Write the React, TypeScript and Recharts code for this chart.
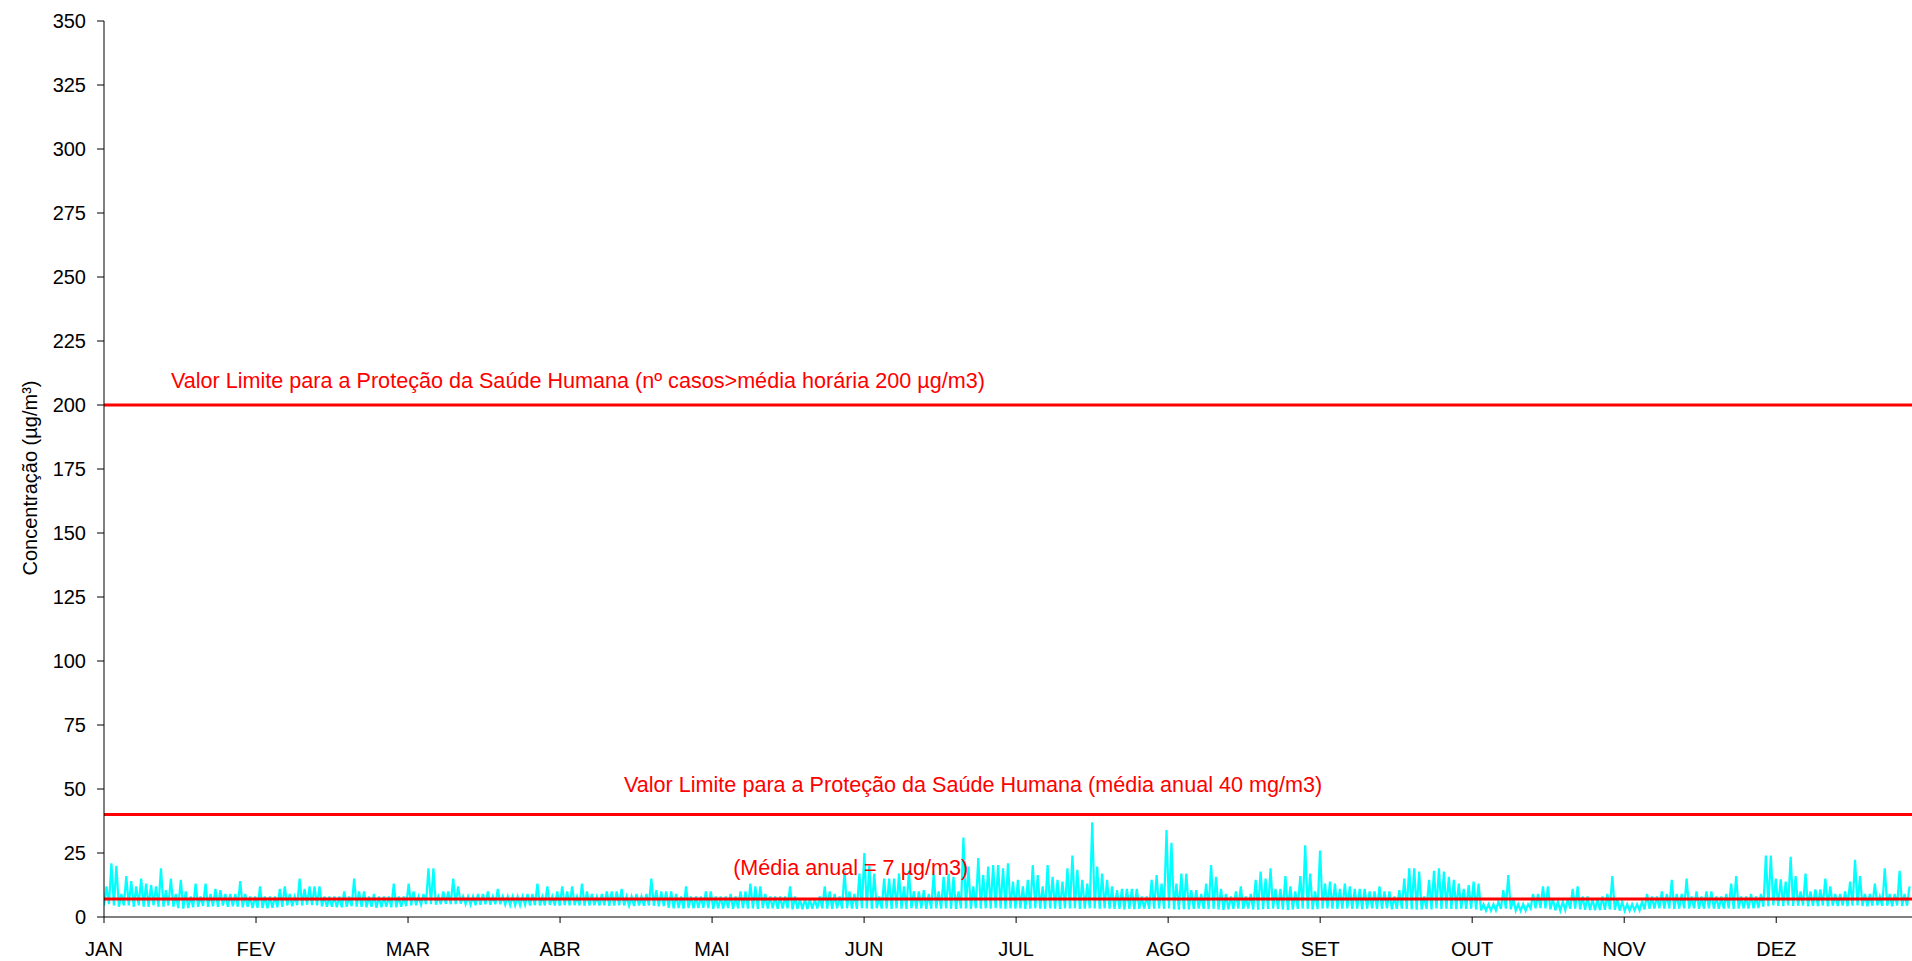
import React from 'react';
import { LineChart, Line, XAxis, YAxis, ReferenceLine } from 'recharts';

const MONTHS = ['JAN','FEV','MAR','ABR','MAI','JUN','JUL','AGO','SET','OUT','NOV','DEZ'];
const Y_TICKS = [0,25,50,75,100,125,150,175,200,225,250,275,300,325,350];

// daily peak (max hourly value), one per day
const DAILY_MAX = [
  12,21,20,9,16,14,12,15,13,12.5,
  12,19,10.5,15,9,14.5,10,8,13,8,
  13,9,11,10.5,9,9,9,14,9,8,
  8,12,8,8,8,11,12,9,8,15,
  11,12,12,12,8,8,8,8,10,8,
  15,10,10,8,9,8,8,8,13,8,
  8,13,10,8,9,19,19,8,10,10,
  15,12,8,8,8,9,9,10,8,11,
  8,8,8,8,8,9,9,13,8,12,
  8,10,12,10,12,8,13,10,9,8,
  9,10,10,10,11,8,8,9,8,9,
  15,10.5,10,10,10,9,8,12,8,8,
  8,10,10,8,8,8,9,8,10,10,
  13,12,12,9,8,8,8,8,12,8,
  7,7,7,7,8,12,10,9,8,18,
  10,9,17,25,20,17,8,15,15,15,
  17,12,18,10,10,10.5,9,17,10,15.7,
  17,15.7,10,31,19.7,12,23,16.4,19.7,20.3,
  20.3,19,21,13.8,14.5,12,14.5,20.3,16.4,12,
  20.3,15.7,14.5,13.8,19,24,18.4,14.5,13,37,
  19.7,17,14.5,12,10.5,11,11,11,11,8,
  8,14.5,16.4,13,34,29,13,17,17,10.5,
  10.5,9,13,20.3,15.7,11,9,8,10,12,
  8,9,14.5,17.7,15,19,11,11,16,12,
  10,16,28,17,10,26,13,13.8,13,11,
  13,12,11,11,11,10,10,12,10,10,
  8,10.5,15,19,19,17.7,8,14.5,18,19,
  17.7,15.7,14.5,13,11,12.5,13.8,13,5,5,
  5,6,10.5,16.4,7,5,5,5,9,9,
  12,12,7,6,6,7,11,12,8,8,
  7,7,8,9,16,7,6,5,5,5,
  6,9,8,8,10,9,14.5,9,9,15,
  8,10,8,10,10,8,8,9,13,16,
  8,8,9,8,9,24,24,15,14.7,13.8,
  23.5,16,10,17,10,10.8,10.8,15,12,9,
  9,10,13.8,22.3,16,9,9,13,8,19,
  9,9,18,9,12
];

// daily low (min hourly value)
const DAILY_MIN = [
  4.5,5,4.5,4,4.5,4.5,4,4.5,4,4,
  4.5,4,4,4.5,4,3.5,3.3,3.5,3.8,4,
  4.3,4,4.2,4,4.5,4,4.2,4,3.8,4,
  3.5,3.6,3.5,3.4,3.6,3.8,4,4.5,4.2,4.6,
  4.5,4.8,4.6,4.5,4.2,4,4,3.8,3.8,4,
  4.2,4,4,3.8,4,3.6,3.8,4,3.8,3.8,
  4,4.2,4.5,4.6,4.8,5,5,4.8,5,5.2,
  5,5,5.2,5,4.8,4.6,4.8,5,4.8,5,
  5,4.8,4.6,4.5,4.5,4.7,4.5,4.6,4.5,4.5,
  4.7,4.5,4.4,4.6,4.5,4.6,4.5,4.4,4.5,4.6,
  4.5,4.6,4.4,4.5,4.6,4.5,4.4,4.3,4.5,4.4,
  4.5,4.4,4.2,4.3,3.6,3.4,3.5,3.3,3.5,3.4,
  3.5,3.6,3.5,3.2,3.4,3.3,3.5,3.2,3.4,3.5,
  3.3,3.4,3.2,3.5,3.3,3.4,3.2,3.3,3.4,3,
  3.2,3,3.1,3.2,3.3,3.4,3.3,3.2,3.4,3.3,
  3.4,3.3,3.2,3.4,3.3,3.2,3.4,3.3,3.4,3.2,
  3.4,3.3,3.2,3.4,3.3,3.4,3.2,3.3,3.4,3.3,
  3.4,3.3,3.2,3.4,3.3,3.2,3.4,3.3,3.4,3.2,
  3.4,3.3,3.2,3.4,3.3,3.4,3.2,3.3,3.4,3.3,
  3.2,3.4,3.3,3.2,3.4,3.3,3.4,3.2,3.3,3.4,
  3.3,3.2,3.4,3.3,3.2,3.2,3,3.2,3.1,3.2,
  3.3,3.2,3.3,3.4,3.2,3.3,3,2.9,3.1,3,
  3.2,3.3,3.2,3.1,3.2,3,2.8,3,3.2,3.3,
  3.2,3.3,3,2.9,3.1,3.2,3.3,3.2,3,2.8,
  3,3.2,3.3,3.2,3,3.1,3.3,3.4,3.3,3.2,
  3.3,3.4,3.2,3.3,3.1,3.3,3.4,3.2,3.3,3.4,
  3,3.2,3.3,3.2,3.1,2.9,3,3.2,3,3.3,
  3.2,3.3,3.2,3.1,3.3,3.2,3.3,3,2.6,2.5,
  2.5,2.6,3.2,3.3,3,2.5,2.4,2.5,3.3,3.4,
  3.5,3.4,3,2.6,2.5,2.7,3.2,3.3,3,2.8,
  2.7,2.6,2.7,2.8,3,2.8,2.5,2.4,2.5,2.6,
  2.6,3,3.2,3.3,3.4,3.3,3.4,3.2,3.3,3.4,
  3.3,3.4,3.2,3.3,3.4,3.3,3.2,3.3,3.4,3.2,
  3.3,3.4,3.3,3.4,3.5,4,4.2,4.5,4.3,4.2,
  4.5,4.3,4.4,4.5,4.2,4.4,4.3,4.5,4.2,4.4,
  4.3,4.5,4.2,4.4,4.5,4.3,4.2,4.4,4.5,4.3,
  4.4,4.2,4.5,4.3,4.4
];

const LIMIT_HOURLY = 200;
const LIMIT_ANNUAL = 40;
const ANNUAL_MEAN = 7;

const DAYS = 365;
// the month marks on the axis sit a little wider apart than a calendar month of the shown span
const MONTH_STEP = 30.69;
const MONTH_TICKS = MONTHS.map((_, i) => i * MONTH_STEP);

const data: { t: number; v: number }[] = [];
DAILY_MAX.forEach((mx, d) => {
  data.push({ t: d, v: DAILY_MIN[d] });
  data.push({ t: d + 0.5, v: mx });
});

const FONT = '"Liberation Sans", Arial, sans-serif';
const RED = '#ff0000';

const LineText = (props: any) => {
  const vb = props.viewBox || { x: 0, y: 0, width: 0 };
  return (
    <text x={vb.x + props.frac * vb.width} y={vb.y - props.lift} fill={RED}
      fontSize={21.6} fontFamily={FONT} textAnchor="start">{props.text}</text>
  );
};

const YLabel = (props: any) => {
  const vb = props.viewBox || { x: 0, y: 0, width: 104, height: 896 };
  const cx = 30;
  const cy = vb.y + vb.height / 2 + 9;
  return (
    <text x={cx} y={cy} transform={`rotate(-90 ${cx} ${cy})`} textAnchor="middle"
      dominantBaseline="central" fontSize={20} fontFamily={FONT} fill="#000">
      Concentração (µg/m³)
    </text>
  );
};

export default function App() {
  return (
    <div style={{ width: 1912, height: 961, background: '#fff' }}>
      <style>{'body{margin:0}'}</style>
      <LineChart width={1912} height={961} data={data}
        margin={{ top: 21, right: 0, left: 0, bottom: 0 }} style={{ fontFamily: FONT }}>
        <XAxis dataKey="t" type="number" domain={[0, DAYS]} ticks={MONTH_TICKS}
          tickFormatter={(v: number) => MONTHS[Math.round(v / MONTH_STEP)] ?? ''}
          height={44} tickSize={6} tickMargin={19} stroke="#000"
          tick={{ fill: '#000', fontSize: 20, fontFamily: FONT }} allowDataOverflow />
        <YAxis type="number" domain={[0, 350]} ticks={Y_TICKS} width={104}
          tickSize={7} tickMargin={11} stroke="#000" interval={0}
          tick={{ fill: '#000', fontSize: 20, fontFamily: FONT }}
          label={<YLabel />} />
        <Line dataKey="v" type="linear" stroke="#00ffff" strokeWidth={2.2} dot={false}
          activeDot={false} isAnimationActive={false} />
        <ReferenceLine y={LIMIT_HOURLY} stroke={RED} strokeWidth={3}
          label={<LineText text="Valor Limite para a Proteção da Saúde Humana (nº casos>média horária 200 µg/m3)" frac={0.037} lift={17} />} />
        <ReferenceLine y={LIMIT_ANNUAL} stroke={RED} strokeWidth={3}
          label={<LineText text="Valor Limite para a Proteção da Saúde Humana (média anual 40 mg/m3)" frac={0.2876} lift={23} />} />
        <ReferenceLine y={ANNUAL_MEAN} stroke={RED} strokeWidth={3}
          label={<LineText text="(Média anual = 7 µg/m3)" frac={0.348} lift={24} />} />
      </LineChart>
    </div>
  );
}
